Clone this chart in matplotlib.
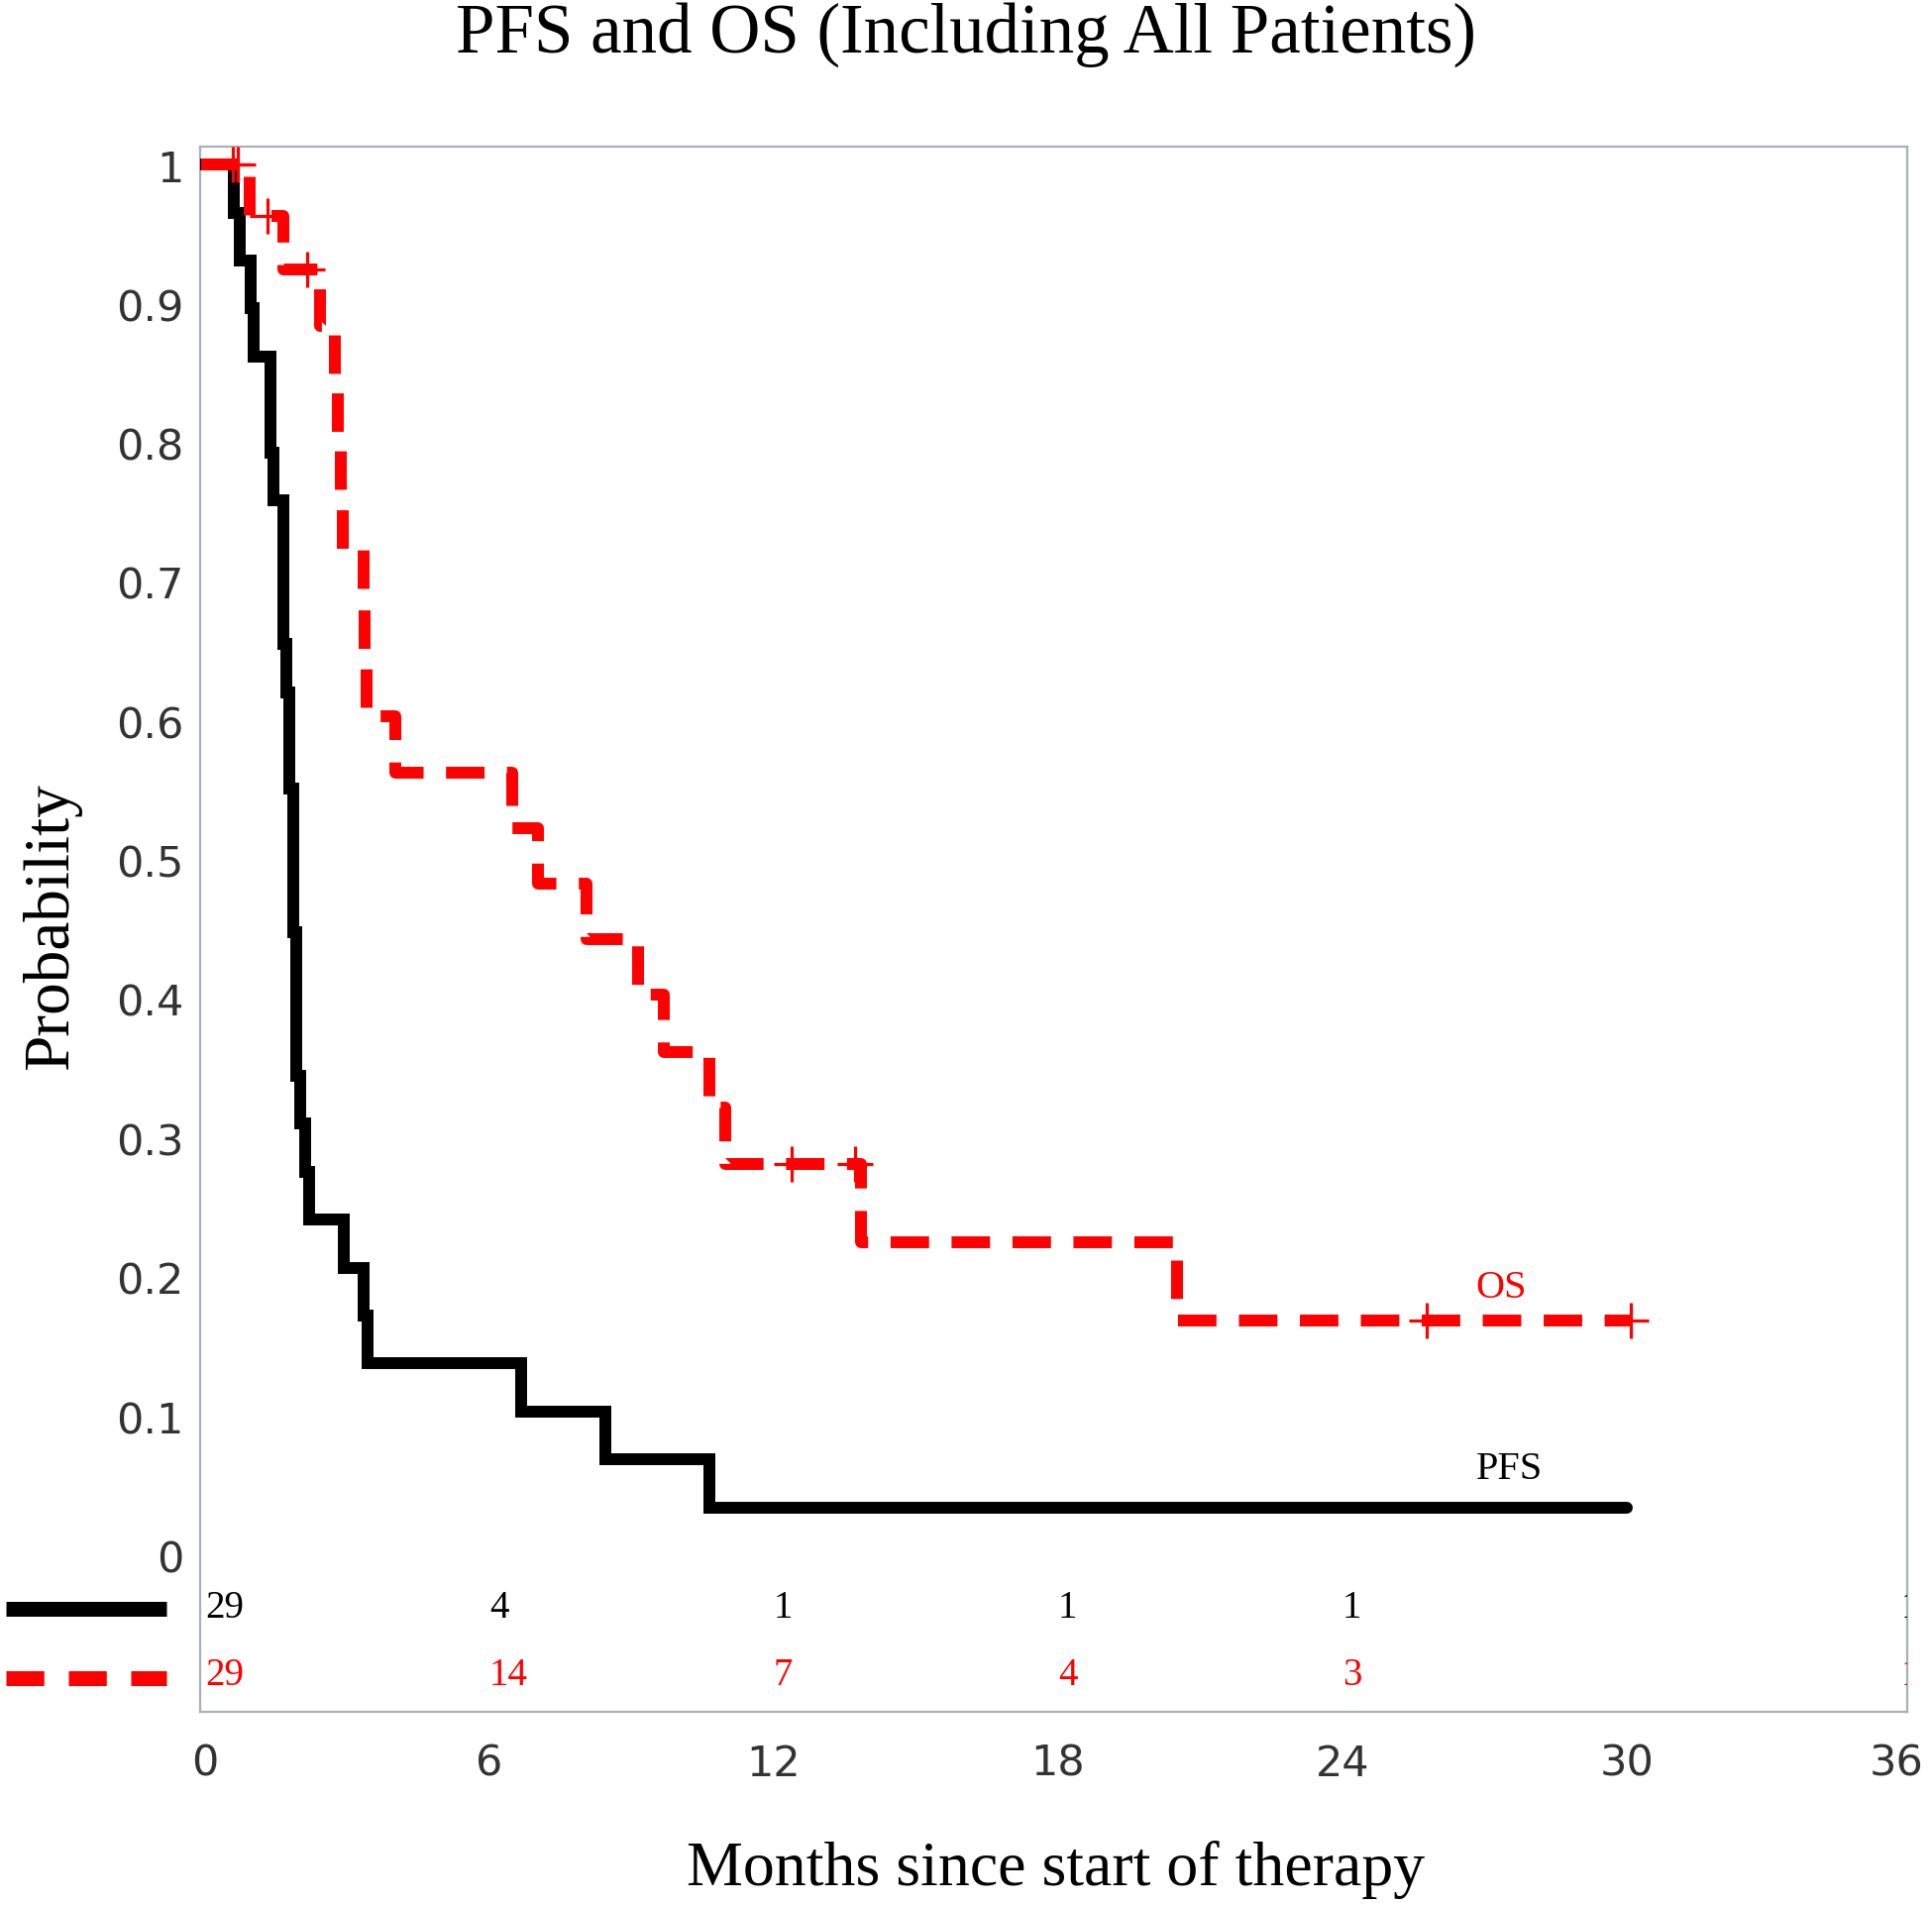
import numpy as np
import matplotlib.pyplot as plt
from matplotlib.lines import Line2D
import matplotlib.transforms as mtransforms


# Kaplan-Meier steps (time in months, probability after the step)
pfs_times = [0, 0.70, 0.81, 1.05, 1.11, 1.46, 1.53, 1.73, 1.80, 1.87, 1.94, 2.01,
             2.10, 2.20, 2.27, 3.02, 3.42, 3.51, 6.75, 8.54, 10.73, 30.08]
pfs_surv = [1.0, 0.9655, 0.9310, 0.8966, 0.8621, 0.7931, 0.7586, 0.6552, 0.6207,
            0.5517, 0.4483, 0.3448, 0.3103, 0.2759, 0.2414, 0.2069, 0.1724, 0.1379,
            0.1034, 0.0690, 0.0345, 0.0345]

os_times = [0, 1.03, 1.73, 2.50, 2.82, 2.88, 2.95, 3.00, 3.42, 3.46, 3.49, 4.10,
            6.56, 7.10, 8.13, 9.21, 9.76, 10.72, 11.06, 13.92, 20.59, 30.16]
os_surv = [1.0, 0.963, 0.9244, 0.884, 0.844, 0.804, 0.764, 0.723, 0.683, 0.643,
           0.603, 0.563, 0.523, 0.483, 0.443, 0.403, 0.362, 0.322, 0.2815, 0.225,
           0.169, 0.169]

os_censor_times = [0.67, 0.77, 1.41, 2.24, 12.45, 13.80, 25.86, 30.16]
os_censor_surv = [1.0, 1.0, 0.963, 0.9244, 0.2815, 0.2815, 0.169, 0.169]

risk_times = [0, 6, 12, 18, 24, 36]
pfs_at_risk = ["29", "4", "1", "1", "1", "1"]
os_at_risk = ["29", "14", "7", "4", "3", "1"]

x_ticks = [0, 6, 12, 18, 24, 30, 36]
y_ticks = [0, 0.1, 0.2, 0.3, 0.4, 0.5, 0.6, 0.7, 0.8, 0.9, 1]
y_tick_labels = ["0", "0.1", "0.2", "0.3", "0.4", "0.5", "0.6", "0.7", "0.8", "0.9", "1"]

serif = "Liberation Serif"
sans = "DejaVu Sans"
tick_color = "#333333"

fig = plt.figure(figsize=(19.5, 19.24), dpi=100)
ax = fig.add_axes([0.1036, 0.1013, 0.9872 - 0.1036, 0.9226 - 0.1013])

ax.step(pfs_times, pfs_surv, where="post", color="black", linewidth=8.6,
        solid_joinstyle="miter", solid_capstyle="round", zorder=3)
ax.step(os_times, os_surv, where="post", color="#ff0000", linewidth=8.6,
        dashes=(3.25, 1.9), dash_capstyle="butt", zorder=4)
ax.plot(os_censor_times, os_censor_surv, linestyle="none", marker="+", markersize=26,
        markeredgewidth=2.3, color="#ff0000", zorder=5)

ax.set_xlim(-0.02, 36.0)
ax.set_ylim(-0.1126, 1.013)
ax.set_xticks(x_ticks)
ax.set_xticklabels([str(t) for t in x_ticks], fontsize=31, fontfamily=sans, color=tick_color)
ax.set_yticks(y_ticks)
ax.set_yticklabels(y_tick_labels, fontsize=31, fontfamily=sans, color=tick_color)
ax.tick_params(axis="both", length=0)
ax.tick_params(axis="x", pad=22)
ax.tick_params(axis="y", pad=12)

# nudge x tick labels slightly right, the last one left so it stays on the page
x_labels = ax.get_xticklabels()
for label in x_labels[:-1]:
    shift = mtransforms.ScaledTranslation(4 / 100, 0, fig.dpi_scale_trans)
    label.set_transform(label.get_transform() + shift)
shift_last = mtransforms.ScaledTranslation(-11 / 100, 0, fig.dpi_scale_trans)
x_labels[-1].set_transform(x_labels[-1].get_transform() + shift_last)

for side in ["top", "right", "bottom", "left"]:
    ax.spines[side].set_color("#a8b0b8")
    ax.spines[side].set_linewidth(1.6)

# curve labels
ax.text(27.43, 0.193, "OS", color="#ff0000", fontsize=29, fontfamily=serif,
        ha="center", va="center")
ax.text(27.6, 0.0626, "PFS", color="black", fontsize=29, fontfamily=serif,
        ha="center", va="center")

# number at risk table inside the frame
trans = mtransforms.blended_transform_factory(ax.transData, ax.transAxes)
for t, n_pfs, n_os in zip(risk_times, pfs_at_risk, os_at_risk):
    x_pos = t + 0.08 if t < 36 else t - 0.14
    ax.text(x_pos, 0.0671, n_pfs, transform=trans, color="black", fontsize=28,
            fontfamily=serif, ha="left", va="center", clip_on=True)
    ax.text(x_pos, 0.024, n_os, transform=trans, color="#ff0000", fontsize=28,
            fontfamily=serif, ha="left", va="center", clip_on=True)

# line samples left of the table
fig.add_artist(Line2D([6 / 1950, 168 / 1950], [1 - 1625 / 1924, 1 - 1625 / 1924],
                      color="black", linewidth=10.8, solid_capstyle="butt"))
fig.add_artist(Line2D([6 / 1950, 168 / 1950], [1 - 1695 / 1924, 1 - 1695 / 1924],
                      color="#ff0000", linewidth=10.8, dashes=(2.55, 1.65),
                      dash_capstyle="butt"))

fig.text(0.5, 1 - 53 / 1924, "PFS and OS (Including All Patients)", fontsize=51,
         fontfamily=serif, ha="center", va="baseline")
fig.text(0.5465, 1 - 1903 / 1924, "Months since start of therapy", fontsize=46,
         fontfamily=serif, ha="center", va="baseline")
fig.text(52 / 1950, 1 - 935 / 1924, "Probability", fontsize=47, fontfamily=serif,
         ha="center", va="center", rotation=90)

fig.savefig("out.png", dpi=100)
